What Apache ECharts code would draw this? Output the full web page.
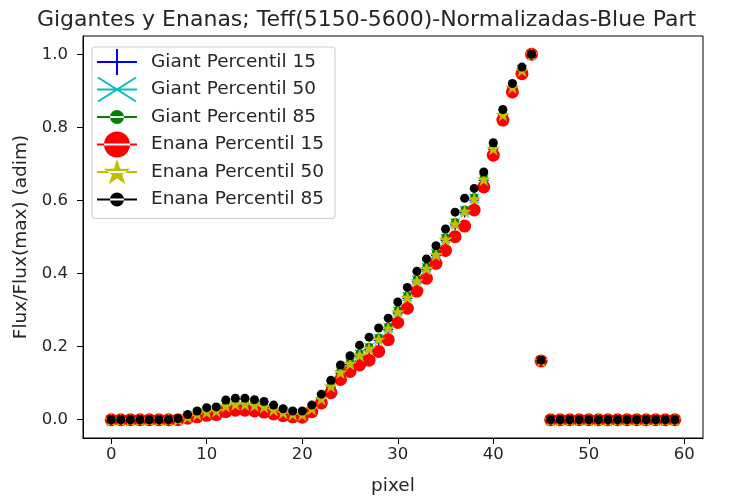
<!DOCTYPE html>
<html>
<head>
<meta charset="utf-8">
<script src="https://cdn.jsdelivr.net/npm/echarts@6/dist/echarts.min.js"></script>
<style>
  html, body { margin: 0; padding: 0; background: #fff; }
  #chart { width: 733px; height: 497px; }
</style>
</head>
<body>
<div id="chart"></div>
<script>
// Pixel index along the blue part of the spectrum
const pixel = [0,1,2,3,4,5,6,7,8,9,10,11,12,13,14,15,16,17,18,19,20,21,22,23,24,25,26,27,28,29,
               30,31,32,33,34,35,36,37,38,39,40,41,42,43,44,45,46,47,48,49,50,51,52,53,54,55,56,57,58,59];

// Normalised flux, giants
const giantP15 = [0,0,0,0,0,0,0,0.001,0.007,0.014,0.020,0.023,0.035,0.040,0.040,0.037,0.033,0.026,0.018,0.014,
                  0.013,0.028,0.055,0.089,0.127,0.151,0.174,0.192,0.217,0.247,0.292,0.332,0.377,0.411,0.449,0.491,0.533,0.567,0.601,0.655,
                  0.740,0.833,0.909,0.956,1.0,0.162,0,0,0,0,0,0,0,0,0,0,0,0,0,0];
const giantP50 = [0,0,0,0,0,0,0,0.002,0.011,0.018,0.024,0.027,0.040,0.045,0.045,0.042,0.038,0.030,0.022,0.018,
                  0.017,0.033,0.060,0.094,0.132,0.156,0.179,0.197,0.222,0.252,0.297,0.337,0.382,0.416,0.454,0.496,0.538,0.572,0.606,0.660,
                  0.744,0.836,0.911,0.958,1.0,0.162,0,0,0,0,0,0,0,0,0,0,0,0,0,0];
const giantP85 = [0,0,0,0,0,0,0,0.002,0.013,0.021,0.027,0.030,0.043,0.048,0.048,0.045,0.041,0.033,0.025,0.021,
                  0.020,0.036,0.063,0.097,0.135,0.159,0.182,0.200,0.225,0.255,0.300,0.340,0.385,0.419,0.457,0.499,0.541,0.575,0.609,0.663,
                  0.747,0.840,0.914,0.961,1.0,0.163,0,0,0,0,0,0,0,0,0,0,0,0,0,0];

// Normalised flux, dwarfs
const enanaP15 = [0,0,0,0,0,0,0,0.0,0.004,0.008,0.012,0.014,0.022,0.026,0.026,0.024,0.021,0.016,0.011,0.008,
                  0.007,0.022,0.046,0.074,0.110,0.132,0.150,0.163,0.187,0.219,0.266,0.305,0.352,0.387,0.428,0.463,0.501,0.530,0.574,0.637,
                  0.724,0.820,0.897,0.947,1.0,0.161,0,0,0,0,0,0,0,0,0,0,0,0,0,0];
const enanaP50 = [0,0,0,0,0,0,0,0.001,0.009,0.016,0.022,0.025,0.038,0.043,0.043,0.040,0.036,0.028,0.020,0.016,
                  0.015,0.031,0.058,0.092,0.130,0.154,0.177,0.195,0.220,0.250,0.295,0.335,0.380,0.414,0.452,0.494,0.536,0.570,0.604,0.658,
                  0.742,0.835,0.910,0.957,1.0,0.162,0,0,0,0,0,0,0,0,0,0,0,0,0,0];
const enanaP85 = [0,0,0,0,0,0,0,0.003,0.014,0.024,0.033,0.035,0.054,0.059,0.059,0.055,0.050,0.040,0.030,0.024,
                  0.024,0.040,0.070,0.108,0.150,0.175,0.204,0.226,0.251,0.278,0.322,0.362,0.406,0.440,0.476,0.522,0.568,0.606,0.633,0.678,
                  0.758,0.849,0.920,0.965,1.0,0.163,0,0,0,0,0,0,0,0,0,0,0,0,0,0];

const xTicks = [0, 10, 20, 30, 40, 50, 60];
const yTicks = [0, 0.2, 0.4, 0.6, 0.8, 1.0];

// ---- marker geometry helpers (SVG path strings) ----
function seg(x1, y1, x2, y2, w) {
  const dx = x2 - x1, dy = y2 - y1, L = Math.hypot(dx, dy);
  const nx = -dy / L * w / 2, ny = dx / L * w / 2;
  const p = [[x1 + nx, y1 + ny], [x2 + nx, y2 + ny], [x2 - nx, y2 - ny], [x1 - nx, y1 - ny]];
  return 'M' + p.map(q => q[0].toFixed(2) + ' ' + q[1].toFixed(2)).join(' L') + ' Z ';
}
function circle(cx, cy, r) {
  return `M${cx - r} ${cy} A${r} ${r} 0 1 1 ${cx + r} ${cy} A${r} ${r} 0 1 1 ${cx - r} ${cy} Z `;
}
function star(cx, cy, R) {
  const r = R * 0.381966;
  let d = '';
  for (let i = 0; i < 10; i++) {
    const a = -Math.PI / 2 + i * Math.PI / 5;
    const rr = i % 2 === 0 ? R : r;
    d += (i === 0 ? 'M' : 'L') + (cx + rr * Math.cos(a)).toFixed(2) + ' ' + (cy + rr * Math.sin(a)).toFixed(2) + ' ';
  }
  return d + 'Z ';
}
// anchors fix the bounding box so every legend handle keeps the same scale
const anchors = 'M0 0 L0 0 M40 26 L40 26 ';
const hline = seg(0, 13, 40, 13, 2);

const plusMark = 'path://' + seg(0, 6, 12, 6, 1.6) + seg(6, 0, 6, 12, 1.6);
const crossMark = 'path://' + seg(0, 0, 12, 12, 1.6) + seg(0, 12, 12, 0, 1.6);
const starMark = 'path://' + star(10, 10, 10);

const legendIcons = [
  'path://' + anchors + hline + seg(20, 0, 20, 26, 2),
  'path://' + anchors + hline + seg(1, 1, 39, 25, 2) + seg(1, 25, 39, 1, 2),
  'path://' + anchors + hline + circle(20, 13, 7),
  'path://' + anchors + hline + circle(20, 13, 13),
  'path://' + anchors + hline + star(20, 14, 14),
  'path://' + anchors + hline + circle(20, 13, 7)
];

const names = ['Giant Percentil 15', 'Giant Percentil 50', 'Giant Percentil 85',
               'Enana Percentil 15', 'Enana Percentil 50', 'Enana Percentil 85'];
const values = [giantP15, giantP50, giantP85, enanaP15, enanaP50, enanaP85];
const colors = ['#0000ff', '#00bfbf', '#008000', '#ff0000', '#bfbf00', '#000000'];
const symbols = [plusMark, crossMark, 'circle', 'circle', starMark, 'circle'];
const sizes = [10, 10, 8, 13, 14, 9];

const series = names.map((n, k) => ({
  name: n,
  type: 'scatter',
  data: pixel.map((p, i) => [p, values[k][i]]),
  symbol: symbols[k],
  symbolSize: sizes[k],
  itemStyle: { color: colors[k], opacity: 1, borderWidth: 0 },
  emphasis: { disabled: true },
  z: 2
}));

const FONT = 'DejaVu Sans';
const TXT = '#262626';
const chart = echarts.init(document.getElementById('chart'), null, { renderer: 'canvas' });
chart.setOption({
  animation: false,
  backgroundColor: '#ffffff',
  title: {
    text: 'Gigantes y Enanas; Teff(5150-5600)-Normalizadas-Blue Part',
    left: 'center',
    top: 4,
    textStyle: { fontFamily: FONT, fontSize: 22, fontWeight: 'normal', color: TXT }
  },
  legend: {
    orient: 'vertical',
    left: 92,
    top: 47,
    padding: [2, 11, 6, 5],
    itemGap: 1.5,
    itemWidth: 40,
    itemHeight: 26,
    borderColor: '#cccccc',
    borderWidth: 1,
    borderRadius: 3,
    backgroundColor: 'rgba(255,255,255,0.8)',
    selectedMode: false,
    textStyle: { fontFamily: FONT, fontSize: 18.5, color: TXT, padding: [0, 0, 0, 9] },
    data: names.map((n, k) => ({ name: n, icon: legendIcons[k], itemStyle: { color: colors[k], borderWidth: 0 } }))
  },
  grid: {
    left: 83, right: 30, top: 36, bottom: 59,
    containLabel: false,
    outerBoundsMode: 'none',
    show: true, borderColor: '#000', borderWidth: 1, backgroundColor: 'transparent'
  },
  xAxis: {
    type: 'value',
    min: -2.95, max: 61.95,
    name: 'pixel',
    nameLocation: 'middle',
    nameGap: 39,
    nameTextStyle: { fontFamily: FONT, fontSize: 18.5, color: TXT },
    axisLine: { show: true, onZero: false, lineStyle: { color: '#000', width: 1 } },
    axisTick: { show: true, length: 6, inside: false, customValues: xTicks, lineStyle: { color: '#000' } },
    axisLabel: { customValues: xTicks, margin: 8, fontFamily: FONT, fontSize: 16.5, color: TXT },
    splitLine: { show: false }
  },
  yAxis: {
    type: 'value',
    min: -0.05, max: 1.05,
    name: 'Flux/Flux(max) (adim)',
    nameLocation: 'middle',
    nameGap: 52,
    nameRotate: 90,
    nameTextStyle: { fontFamily: FONT, fontSize: 18.5, color: TXT },
    axisLine: { show: true, onZero: false, lineStyle: { color: '#000', width: 1 } },
    axisTick: { show: true, length: 6, inside: false, customValues: yTicks, lineStyle: { color: '#000' } },
    axisLabel: { customValues: yTicks, margin: 15, fontFamily: FONT, fontSize: 16.5, color: TXT,
                 formatter: v => v.toFixed(1) },
    splitLine: { show: false }
  },
  series: series
});
</script>
</body>
</html>
